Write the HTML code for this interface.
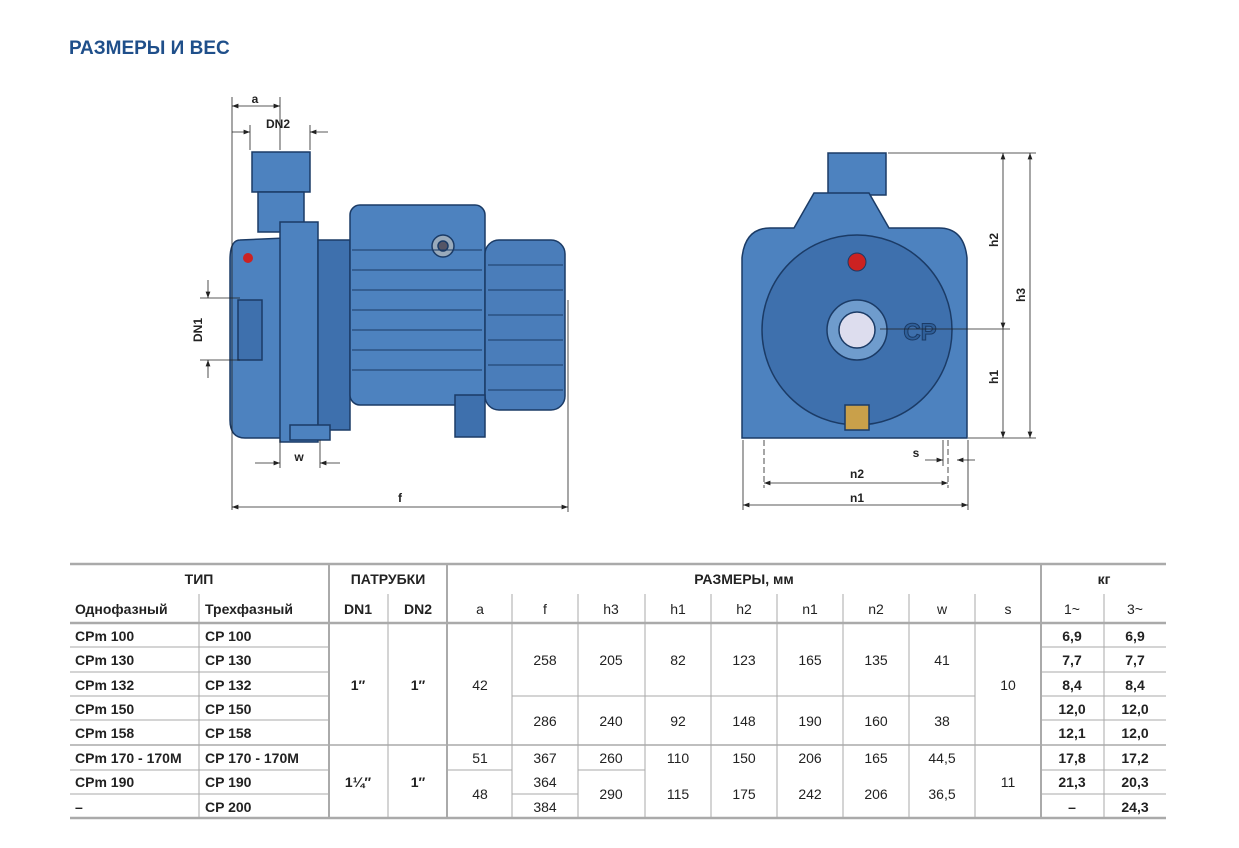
<!DOCTYPE html>
<html><head><meta charset="utf-8"><style>
body{margin:0;background:#fff;}
svg{display:block;font-family:"Liberation Sans",sans-serif;}
.t{font-size:14px;fill:#222;text-anchor:middle}
.b{font-weight:bold}
.l{text-anchor:start}
.d{font-size:12px;font-weight:bold;fill:#222;text-anchor:middle}
</style></head><body>
<svg width="1239" height="848" viewBox="0 0 1239 848">
<defs><marker id="ar" markerWidth="8" markerHeight="6" refX="8" refY="3" orient="auto-start-reverse"><path d="M0,0L8,3L0,6z" fill="#222"/></marker></defs>
<text x="69" y="54" font-size="19" font-weight="bold" fill="#1f4f8a">РАЗМЕРЫ И ВЕС</text>

<!-- Left pump -->
<g stroke="#1b3b66" stroke-width="1.5" fill="#4d82bf">
<rect x="252" y="152" width="58" height="40"/>
<path d="M258 192h46v40h-46z"/>
<path d="M240 240q-10 0-10 20v160q0 18 15 18h40v-200z"/>
<rect x="238" y="300" width="24" height="60" fill="#3e70ad"/>
<rect x="280" y="222" width="38" height="220"/>
<rect x="318" y="240" width="32" height="190" fill="#3e70ad"/>
<rect x="350" y="205" width="135" height="200" rx="10"/>
<rect x="485" y="240" width="80" height="170" rx="14" fill="#4a7dba"/>
<rect x="455" y="395" width="30" height="42" fill="#3e70ad"/>
<rect x="290" y="425" width="40" height="15"/>
<circle cx="443" cy="246" r="11" fill="#9ab"/>
<circle cx="443" cy="246" r="5" fill="#556"/>
</g>
<g stroke="#1b3b66" stroke-width="1" fill="none">
<path d="M352 250h130M352 270h130M352 290h130M352 310h130M352 330h130M352 350h130M352 370h130"/>
<path d="M488 265h75M488 290h75M488 315h75M488 340h75M488 365h75M488 390h75"/>
</g>
<circle cx="248" cy="258" r="5" fill="#c22"/>

<!-- Right pump -->
<g stroke="#1b3b66" stroke-width="1.5" fill="#4d82bf">
<rect x="828" y="153" width="58" height="42"/>
<path d="M770 228q-25 0-28 30v180h225v-180q-3-30-28-30h-50l-20-35h-55l-20 35z"/>
<circle cx="857" cy="330" r="95" fill="#3e70ad"/>
<circle cx="857" cy="330" r="30" fill="#6f9ccd"/>
<circle cx="857" cy="330" r="18" fill="#dde"/>
<rect x="845" y="405" width="24" height="25" fill="#c9a04a"/>
</g>
<circle cx="857" cy="262" r="9" fill="#c22" stroke="#1b3b66"/>
<text x="920" y="340" font-size="24" font-weight="bold" fill="#2f5f99" stroke="#1b3b66" text-anchor="middle">CP</text>

<!-- dimension lines -->
<g stroke="#222" stroke-width="0.8" fill="none">
<line x1="232" y1="97" x2="232" y2="510"/><line x1="280" y1="97" x2="280" y2="150"/>
<line x1="232" y1="106" x2="280" y2="106" marker-start="url(#ar)" marker-end="url(#ar)"/>
<line x1="250" y1="125" x2="250" y2="150"/><line x1="310" y1="125" x2="310" y2="150"/>
<line x1="232" y1="132" x2="250" y2="132" marker-end="url(#ar)"/><line x1="328" y1="132" x2="310" y2="132" marker-end="url(#ar)"/>
<line x1="200" y1="298" x2="240" y2="298"/><line x1="200" y1="360" x2="240" y2="360"/>
<line x1="208" y1="280" x2="208" y2="298" marker-end="url(#ar)"/><line x1="208" y1="378" x2="208" y2="360" marker-end="url(#ar)"/>
<line x1="280" y1="440" x2="280" y2="468"/><line x1="320" y1="440" x2="320" y2="468"/>
<line x1="255" y1="463" x2="280" y2="463" marker-end="url(#ar)"/><line x1="340" y1="463" x2="320" y2="463" marker-end="url(#ar)"/>
<line x1="568" y1="300" x2="568" y2="512"/>
<line x1="232" y1="507" x2="568" y2="507" marker-start="url(#ar)" marker-end="url(#ar)"/>
<line x1="888" y1="153" x2="1036" y2="153"/><line x1="880" y1="329" x2="1010" y2="329"/><line x1="968" y1="438" x2="1036" y2="438"/>
<line x1="1003" y1="153" x2="1003" y2="329" marker-start="url(#ar)" marker-end="url(#ar)"/>
<line x1="1003" y1="329" x2="1003" y2="438" marker-end="url(#ar)"/>
<line x1="1030" y1="153" x2="1030" y2="438" marker-start="url(#ar)" marker-end="url(#ar)"/>
<line x1="743" y1="440" x2="743" y2="510"/><line x1="968" y1="440" x2="968" y2="510"/>
<line x1="764" y1="440" x2="764" y2="488" stroke-dasharray="6 3"/><line x1="948" y1="440" x2="948" y2="488" stroke-dasharray="6 3"/>
<line x1="943" y1="440" x2="943" y2="466"/>
<line x1="764" y1="483" x2="948" y2="483" marker-start="url(#ar)" marker-end="url(#ar)"/>
<line x1="743" y1="505" x2="968" y2="505" marker-start="url(#ar)" marker-end="url(#ar)"/>
<line x1="925" y1="460" x2="943" y2="460" marker-end="url(#ar)"/><line x1="975" y1="460" x2="957" y2="460" marker-end="url(#ar)"/>
</g>
<text class="d" x="255" y="103">a</text><text class="d" x="278" y="128">DN2</text>
<text class="d" transform="translate(202,330) rotate(-90)">DN1</text>
<text class="d" x="299" y="461">w</text><text class="d" x="400" y="502">f</text>
<text class="d" transform="translate(998,240) rotate(-90)">h2</text>
<text class="d" transform="translate(1025,295) rotate(-90)">h3</text>
<text class="d" transform="translate(998,377) rotate(-90)">h1</text>
<text class="d" x="916" y="457">s</text><text class="d" x="857" y="478">n2</text><text class="d" x="857" y="502">n1</text>

<!-- table -->
<g stroke="#aaa" stroke-width="1" fill="none">
<line x1="70" y1="564" x2="1166" y2="564" stroke-width="2.5"/>
<line x1="70" y1="623" x2="1166" y2="623" stroke-width="2.5"/>
<line x1="70" y1="818" x2="1166" y2="818" stroke-width="2.5"/>
<line x1="70" y1="745" x2="1166" y2="745" stroke-width="1.5"/>
<path d="M70 647H329M70 672H329M70 696H329M70 720H329M70 770H329M70 794H329"/>
<path d="M512 696H975M578 770H645M512 794H578M447 770H512"/>
<path d="M1041 647H1166M1041 672H1166M1041 696H1166M1041 720H1166M1041 770H1166M1041 794H1166"/>
<line x1="329" y1="564" x2="329" y2="818" stroke-width="2"/>
<line x1="447" y1="564" x2="447" y2="818" stroke-width="2"/>
<line x1="1041" y1="564" x2="1041" y2="818" stroke-width="2"/>
<path d="M199 594V818M388 594V818M1104 594V818M512 594V818M578 594V818M645 594V818M711 594V818M777 594V818M843 594V818M909 594V818M975 594V818"/>
</g>
<g class="t b">
<text x="199" y="584">ТИП</text><text x="388" y="584">ПАТРУБКИ</text><text x="744" y="584">РАЗМЕРЫ, мм</text><text x="1104" y="584">кг</text>
<text x="75" y="614" class="l">Однофазный</text><text x="205" y="614" class="l">Трехфазный</text>
<text x="358" y="614">DN1</text><text x="418" y="614">DN2</text>
</g>
<g class="t">
<text x="480" y="614">a</text><text x="545" y="614">f</text><text x="611" y="614">h3</text><text x="678" y="614">h1</text><text x="744" y="614">h2</text><text x="810" y="614">n1</text><text x="876" y="614">n2</text><text x="942" y="614">w</text><text x="1008" y="614">s</text><text x="1072" y="614">1~</text><text x="1135" y="614">3~</text>
</g>
<g class="t b" style="text-anchor:start">
<text x="75" y="641">CPm 100</text><text x="205" y="641">CP 100</text>
<text x="75" y="665">CPm 130</text><text x="205" y="665">CP 130</text>
<text x="75" y="690">CPm 132</text><text x="205" y="690">CP 132</text>
<text x="75" y="714">CPm 150</text><text x="205" y="714">CP 150</text>
<text x="75" y="738">CPm 158</text><text x="205" y="738">CP 158</text>
<text x="75" y="763">CPm 170 - 170M</text><text x="205" y="763">CP 170 - 170M</text>
<text x="75" y="787">CPm 190</text><text x="205" y="787">CP 190</text>
<text x="75" y="812">–</text><text x="205" y="812">CP 200</text>
</g>
<g class="t b">
<text x="358" y="690">1″</text><text x="418" y="690">1″</text>
<text x="358" y="787">1¼″</text><text x="418" y="787">1″</text>
<text x="1072" y="641">6,9</text><text x="1135" y="641">6,9</text>
<text x="1072" y="665">7,7</text><text x="1135" y="665">7,7</text>
<text x="1072" y="690">8,4</text><text x="1135" y="690">8,4</text>
<text x="1072" y="714">12,0</text><text x="1135" y="714">12,0</text>
<text x="1072" y="738">12,1</text><text x="1135" y="738">12,0</text>
<text x="1072" y="763">17,8</text><text x="1135" y="763">17,2</text>
<text x="1072" y="787">21,3</text><text x="1135" y="787">20,3</text>
<text x="1072" y="812">–</text><text x="1135" y="812">24,3</text>
</g>
<g class="t">
<text x="480" y="690">42</text>
<text x="545" y="665">258</text><text x="611" y="665">205</text><text x="678" y="665">82</text><text x="744" y="665">123</text><text x="810" y="665">165</text><text x="876" y="665">135</text><text x="942" y="665">41</text>
<text x="545" y="726">286</text><text x="611" y="726">240</text><text x="678" y="726">92</text><text x="744" y="726">148</text><text x="810" y="726">190</text><text x="876" y="726">160</text><text x="942" y="726">38</text>
<text x="1008" y="690">10</text>
<text x="480" y="763">51</text><text x="545" y="763">367</text><text x="611" y="763">260</text><text x="678" y="763">110</text><text x="744" y="763">150</text><text x="810" y="763">206</text><text x="876" y="763">165</text><text x="942" y="763">44,5</text>
<text x="1008" y="787">11</text>
<text x="480" y="799">48</text><text x="545" y="787">364</text><text x="545" y="812">384</text>
<text x="611" y="799">290</text><text x="678" y="799">115</text><text x="744" y="799">175</text><text x="810" y="799">242</text><text x="876" y="799">206</text><text x="942" y="799">36,5</text>
</g>
</svg>
</body></html>
